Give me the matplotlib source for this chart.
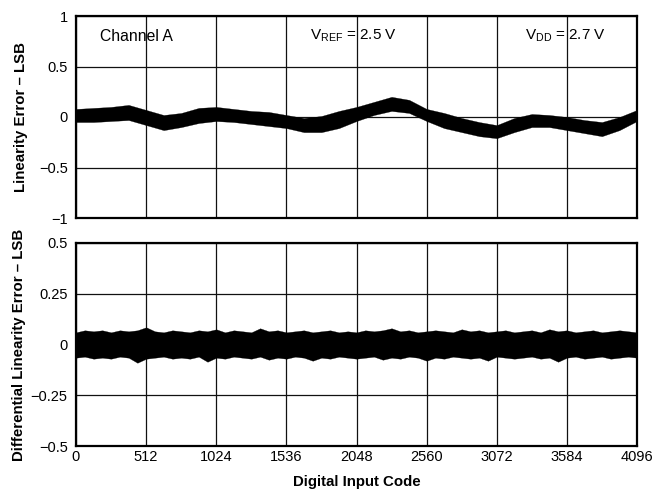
import matplotlib
matplotlib.use("Agg")
import matplotlib.pyplot as plt

plt.rcParams['font.family'] = ['Liberation Sans', 'DejaVu Sans']
plt.rcParams['mathtext.fontset'] = 'custom'
plt.rcParams['mathtext.rm'] = 'Liberation Sans'
plt.rcParams['mathtext.it'] = 'Liberation Sans'
plt.rcParams['axes.unicode_minus'] = True

# ---------------- data ----------------
x_ticks = [0, 512, 1024, 1536, 2048, 2560, 3072, 3584, 4096]
x_labels = ["0", "512", "1024", "1536", "2048", "2560", "3072", "3584", "4096"]

inl_codes = [0, 128, 256, 384, 512, 640, 768, 896, 1024, 1152, 1280, 1408,
             1536, 1664, 1792, 1920, 2048, 2176, 2304, 2432, 2560, 2688,
             2816, 2944, 3072, 3200, 3328, 3456, 3584, 3712, 3840, 3968, 4096]
inl_upper = [0.08, 0.09, 0.10, 0.12, 0.07, 0.02, 0.04, 0.09, 0.10, 0.08, 0.06, 0.05,
             0.02, -0.01, 0.01, 0.06, 0.10, 0.15, 0.20, 0.17, 0.08, 0.04,
             -0.01, -0.05, -0.08, -0.01, 0.03, 0.02, 0.00, -0.03, -0.05, 0.00, 0.07]
inl_lower = [-0.05, -0.05, -0.04, -0.03, -0.08, -0.13, -0.10, -0.06, -0.04, -0.05, -0.07, -0.09,
             -0.11, -0.15, -0.15, -0.11, -0.04, 0.02, 0.06, 0.04, -0.04, -0.11,
             -0.15, -0.19, -0.21, -0.15, -0.10, -0.10, -0.13, -0.16, -0.19, -0.13, -0.04]

dnl_codes = list(range(0, 4097, 64))
dnl_upper = [0.060, 0.070, 0.065, 0.070, 0.060, 0.070, 0.065, 0.070, 0.085, 0.065,
             0.060, 0.070, 0.065, 0.060, 0.070, 0.065, 0.075, 0.060, 0.070, 0.065,
             0.060, 0.080, 0.065, 0.070, 0.060, 0.065, 0.070, 0.060, 0.065, 0.070,
             0.060, 0.065, 0.060, 0.070, 0.065, 0.070, 0.080, 0.065, 0.070, 0.060,
             0.065, 0.070, 0.065, 0.060, 0.075, 0.065, 0.070, 0.060, 0.065, 0.070,
             0.060, 0.065, 0.070, 0.060, 0.075, 0.065, 0.070, 0.060, 0.065, 0.070,
             0.060, 0.065, 0.070, 0.065, 0.060]
dnl_lower = [-0.065, -0.060, -0.070, -0.065, -0.070, -0.060, -0.065, -0.090, -0.070, -0.065,
             -0.060, -0.070, -0.065, -0.070, -0.060, -0.085, -0.065, -0.070, -0.060, -0.065,
             -0.070, -0.060, -0.075, -0.065, -0.070, -0.060, -0.065, -0.080, -0.065, -0.070,
             -0.060, -0.065, -0.070, -0.065, -0.060, -0.075, -0.065, -0.070, -0.060, -0.065,
             -0.080, -0.065, -0.070, -0.060, -0.065, -0.070, -0.065, -0.080, -0.060, -0.065,
             -0.070, -0.065, -0.060, -0.070, -0.065, -0.085, -0.065, -0.060, -0.070, -0.065,
             -0.060, -0.070, -0.065, -0.060, -0.065]

inl_yticks = [1, 0.5, 0, -0.5, -1]
inl_ylabels = ["1", "0.5", "0", "\u22120.5", "\u22121"]
dnl_yticks = [0.5, 0.25, 0, -0.25, -0.5]
dnl_ylabels = ["0.5", "0.25", "0", "\u22120.25", "\u22120.5"]

# ---------------- figure ----------------
fig = plt.figure(figsize=(6.55, 4.97), dpi=100)
W, H = 655, 497
def rect(l, t, r, b):
    return [l / W, 1 - b / H, (r - l) / W, (b - t) / H]

ax1 = fig.add_axes(rect(76, 16, 637, 218))
ax2 = fig.add_axes(rect(76, 243, 637, 446))

for ax in (ax1, ax2):
    ax.set_xlim(0, 4096)
    ax.set_xticks(x_ticks)
    ax.grid(True, color='#111111', linewidth=0.9)
    ax.set_axisbelow(True)
    for s in ax.spines.values():
        s.set_linewidth(1.6)
    ax.tick_params(length=0, labelsize=10.5, pad=6)

ax1.fill_between(inl_codes, inl_lower, inl_upper, color='black', linewidth=0.2, edgecolor='black')
ax1.set_ylim(-1, 1)
ax1.set_yticks(inl_yticks)
ax1.set_yticklabels(inl_ylabels)
ax1.set_xticklabels([])
ax1.set_ylabel("Linearity Error \u2013 LSB", fontsize=10.8, fontweight='bold', labelpad=8)

ax1.text(175, 0.80, "Channel A", fontsize=11.3, va='center', ha='left')
ax1.text(1708, 0.80, r"V$_{\mathrm{REF}}$ = 2.5 V", fontsize=11, va='center', ha='left')
ax1.text(3277, 0.80, r"V$_{\mathrm{DD}}$ = 2.7 V", fontsize=11, va='center', ha='left')

ax2.fill_between(dnl_codes, dnl_lower, dnl_upper, color='black', linewidth=0.2, edgecolor='black')
ax2.set_ylim(-0.5, 0.5)
ax2.set_yticks(dnl_yticks)
ax2.set_yticklabels(dnl_ylabels)
ax2.set_xticklabels(x_labels)
ax2.tick_params(axis='x', pad=3)
ax2.set_ylabel("Differential Linearity Error \u2013 LSB", fontsize=10.8, fontweight='bold', labelpad=3)
ax2.set_xlabel("Digital Input Code", fontsize=10.8, fontweight='bold', labelpad=8)

fig.savefig("out.png", dpi=100)
